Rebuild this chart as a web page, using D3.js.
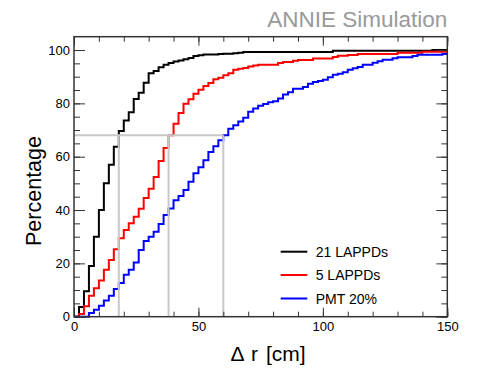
<!DOCTYPE html>
<html><head><meta charset="utf-8">
<script src="https://cdn.jsdelivr.net/npm/d3@7"></script>
<style>
body{margin:0;background:#fff}
svg{display:block}
text{font-family:"Liberation Sans",Arial,Helvetica,sans-serif}
</style>
</head><body>
<svg id="chart" width="498" height="375"></svg>
<script>
// ---- data ----
const binStarts = [0,2,4,6,8,10,12,14,16,18,20,22,24,26,28,30,32,34,36,38,40,42,44,46,48,50,52,54,56,58,
  60,62,64,66,68,70,72,74,76,78,80,82,84,86,88,90,92,94,96,98,100,102,104,106,108,110,112,114,116,118,
  120,122,124,126,128,130,132,134,136,138,140,142,144,146,148];
const binWidth = 2;
const lappd21 = [0,3.6,9.5,19,30,40,50,57,63.7,69.6,73.6,76.7,81.6,84,87.7,91.3,92.1,93.5,94.5,95.1,
  95.7,96.1,96.5,97,97.8,98,98.3,98.3,98.3,98.5,98.6,98.6,98.8,99,
  99.3,99.3,99.3,99.3,99.3,99.3,99.3,99.3,99.3,99.3,99.3,99.3,99.3,99.3,99.3,99.3,99.3,99.3,
  99.7,99.7,99.7,99.7,99.7,99.7,99.7,99.7,99.7,99.7,99.7,99.7,99.7,99.7,99.7,99.7,99.7,99.7,99.7,99.7,
  100,100,100];
const lappd5 = [0,1,3.9,7.9,10.7,13.6,17.6,21.3,25.3,29.4,32.5,35,37.5,40.5,44.5,48,52.4,58.4,63.3,68,
  72.4,76.4,79.9,81.5,83.6,85.1,86.5,87.6,89,89.6,90.5,91.3,92.6,93,93.3,93.8,94.2,94.5,94.5,94.5,
  94.5,95.1,95.5,95.5,96,96.3,96.3,96.3,96.8,96.8,96.8,96.8,97.4,97.9,97.9,98.1,98.1,
  98.5,98.5,98.5,98.5,98.5,98.5,98.5,98.5,99,99,99,99,99,99.4,99.4,99.4,99.4,99.4];
const pmt20 = [0,0,0,1.4,2.6,4.1,6.1,7.9,10.4,12.6,15.7,17.6,20.3,25,28.4,30,31.9,34.8,38.1,40.6,
  43.7,45.3,47.5,50.6,53.8,56,58.7,61.8,63.9,66.2,68,70.5,71.8,73.2,74.6,76.9,78.1,79.1,79.8,80.4,
  80.8,81.8,83.3,84.2,85.5,85.5,86.1,87.4,88,88.4,88.9,89.8,90.7,91.1,91.7,92.6,93.2,93.6,94.5,94.5,
  95.2,95.8,96.4,96.4,96.9,97.3,97.3,97.3,97.8,98.2,98.2,98.2,98.2,98.2,98.5];
const seriesNames = ["21 LAPPDs","5 LAPPDs","PMT 20%"];
const seriesColors = ["#000000","#ff0000","#0000ff"];
const xTickLabels = [0,50,100,150];
const yTickLabels = [0,20,40,60,80,100];
const refLevel = 68;
const refCuts = [18,38,60];
const titleText = "ANNIE Simulation";
const xTitle = "\u0394 r [cm]";
const yTitle = "Percentage";

// ---- layout ----
const svg = d3.select("#chart");
const L = 74, R = 447.3, T = 36.7, B = 316.7;
const x = d3.scaleLinear().domain([0,150]).range([L,R]);
const y = d3.scaleLinear().domain([0,105]).range([B,T]);
const axisColor = "#333";

// histograms
const seriesData = [lappd21, lappd5, pmt20];
const line = d3.line().x(d=>x(d[0])).y(d=>y(d[1])).curve(d3.curveStepAfter);
seriesData.forEach((vals,k)=>{
  const pts = binStarts.map((b,i)=>[b, vals[i]]);
  pts.push([binStarts[binStarts.length-1]+binWidth, vals[vals.length-1]]);
  pts.unshift([0,0]);
  svg.append("path").attr("d", line(pts)).attr("fill","none")
    .attr("stroke", seriesColors[k]).attr("stroke-width",2);
});

// reference lines
const gray = "#c8c8c8";
svg.append("line").attr("x1",x(0)).attr("x2",x(d3.max(refCuts)))
  .attr("y1",y(refLevel)).attr("y2",y(refLevel)).attr("stroke",gray).attr("stroke-width",2);
refCuts.forEach(c=>{
  svg.append("line").attr("x1",x(c)).attr("x2",x(c)).attr("y1",y(0)).attr("y2",y(refLevel))
    .attr("stroke",gray).attr("stroke-width",2);
});

// axes
function styleAxis(g){
  g.select(".domain").remove();
  g.selectAll(".tick line").attr("stroke",axisColor).attr("stroke-width",1);
  g.selectAll("text").attr("fill","#000").style("font-size","13px")
   .style("font-family",'"Liberation Sans",Arial,sans-serif');
}
const yMinor = d3.range(0,105,5);
const xMinor = d3.range(0,151,10);
// left
svg.append("g").attr("transform",`translate(${L},0)`)
  .call(d3.axisLeft(y).tickValues(yMinor).tickSize(-6).tickFormat("")).call(styleAxis);
svg.append("g").attr("transform",`translate(${L},0)`)
  .call(d3.axisLeft(y).tickValues(yTickLabels).tickSize(-11).tickPadding(4)).call(styleAxis);
// right
svg.append("g").attr("transform",`translate(${R},0)`)
  .call(d3.axisRight(y).tickValues(yMinor).tickSize(-6).tickFormat("")).call(styleAxis);
svg.append("g").attr("transform",`translate(${R},0)`)
  .call(d3.axisRight(y).tickValues(yTickLabels).tickSize(-11).tickFormat("")).call(styleAxis);
// bottom
svg.append("g").attr("transform",`translate(0,${B})`)
  .call(d3.axisBottom(x).tickValues(xMinor).tickSize(-5).tickFormat("")).call(styleAxis);
svg.append("g").attr("transform",`translate(0,${B})`)
  .call(d3.axisBottom(x).tickValues(xTickLabels).tickSize(-9).tickPadding(5)).call(styleAxis);
// top
svg.append("g").attr("transform",`translate(0,${T})`)
  .call(d3.axisTop(x).tickValues(xMinor).tickSize(-5).tickFormat("")).call(styleAxis);
svg.append("g").attr("transform",`translate(0,${T})`)
  .call(d3.axisTop(x).tickValues(xTickLabels).tickSize(-9).tickFormat("")).call(styleAxis);

// frame
svg.append("rect").attr("x",L).attr("y",T).attr("width",R-L).attr("height",B-T)
  .attr("fill","none").attr("stroke",axisColor).attr("stroke-width",1.5);

// titles
svg.append("text").attr("x",R).attr("y",27).attr("text-anchor","end")
  .attr("fill","#999").style("font-size","22.5px").text(titleText);
svg.append("text").attr("x",268).attr("y",361).attr("text-anchor","middle")
  .attr("fill","#000").style("font-size","21px").style("word-spacing","2px").text(xTitle);
svg.append("text").attr("transform",`translate(41,191) rotate(-90)`).attr("text-anchor","middle")
  .attr("fill","#000").style("font-size","21.5px").text(yTitle);

// legend
const legY = [251.7, 275, 298.5];
seriesNames.forEach((n,k)=>{
  svg.append("line").attr("x1",280.7).attr("x2",307.3).attr("y1",legY[k]).attr("y2",legY[k])
    .attr("stroke",seriesColors[k]).attr("stroke-width",2);
  svg.append("text").attr("x",315.7).attr("y",legY[k]).attr("dy","0.36em")
    .style("font-size","14px").attr("fill","#000").text(n);
});
</script>
</body></html>
